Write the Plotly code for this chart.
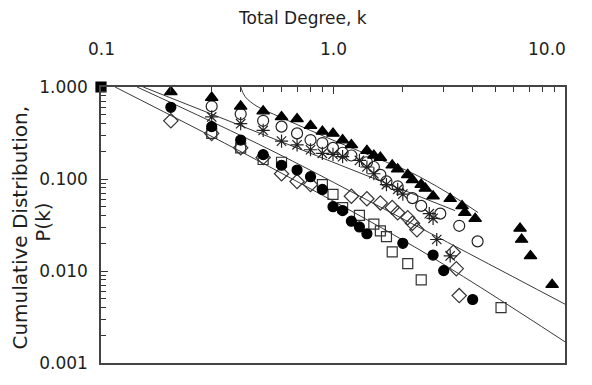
import plotly.graph_objects as go

# values (k = total degree, P = cumulative distribution)
k_tri = [0.2, 0.3, 0.4, 0.5, 0.6, 0.7, 0.8, 0.9, 1.0, 1.1, 1.2, 1.4, 1.5, 1.6, 1.8, 1.9, 2.1, 2.2,
         2.4, 2.5, 2.7, 3.2, 3.6, 3.7, 4.1, 6.4, 6.5, 7.1, 8.8]
p_tri = [0.886, 0.767, 0.617, 0.547, 0.473, 0.450, 0.380, 0.329, 0.313, 0.265, 0.235, 0.203, 0.180,
         0.171, 0.141, 0.128, 0.111, 0.098, 0.087, 0.079, 0.065, 0.061, 0.051, 0.043, 0.037, 0.029,
         0.022, 0.0146, 0.0071]

k_ocirc = [0.3, 0.4, 0.5, 0.6, 0.7, 0.8, 0.9, 1.0, 1.1, 1.2, 1.4, 1.5, 1.6, 1.7, 1.9, 2.2, 2.4,
           2.9, 3.5, 4.2]
p_ocirc = [0.617, 0.508, 0.429, 0.371, 0.313, 0.265, 0.246, 0.218, 0.193, 0.180, 0.152, 0.135,
           0.111, 0.094, 0.083, 0.062, 0.051, 0.042, 0.031, 0.021]

k_star = [0.3, 0.4, 0.5, 0.6, 0.7, 0.8, 0.9, 1.0, 1.1, 1.3, 1.4, 1.5, 1.7, 1.9, 2.0, 2.6, 2.7, 2.8, 3.2]
p_star = [0.473, 0.399, 0.337, 0.258, 0.235, 0.208, 0.19, 0.185, 0.175, 0.159, 0.135, 0.114, 0.087,
          0.077, 0.0685, 0.042, 0.0374, 0.022, 0.0146]

k_diam = [0.2, 0.3, 0.4, 0.5, 0.6, 0.7, 0.8, 1.2, 1.4, 1.6, 1.8, 1.9, 2.1, 2.2, 2.3, 3.3, 3.4, 3.5]
p_diam = [0.429, 0.313, 0.218, 0.171, 0.114, 0.094, 0.087, 0.065, 0.061, 0.055, 0.049, 0.043, 0.038,
          0.033, 0.028, 0.016, 0.0106, 0.0054]

k_fcirc = [0.2, 0.3, 0.4, 0.5, 0.6, 0.7, 0.8, 0.9, 1.0, 1.1, 1.2, 1.3, 1.4, 2.0, 2.7, 3.0, 4.0]
p_fcirc = [0.602, 0.371, 0.265, 0.184, 0.141, 0.125, 0.106, 0.077, 0.050, 0.0454, 0.0348, 0.0301,
           0.0254, 0.020, 0.0149, 0.0101, 0.0049]

k_osq = [0.3, 0.4, 0.5, 0.6, 0.9, 1.0, 1.1, 1.3, 1.5, 1.6, 1.7, 1.8, 2.1, 2.4, 5.3]
p_osq = [0.313, 0.218, 0.163, 0.152, 0.087, 0.068, 0.0488, 0.0402, 0.0324, 0.0273, 0.0236, 0.0161,
         0.012, 0.008, 0.0040]

k_start = [0.1]
p_start = [1.0]

# fitted curves
fitA_k = [0.40, 0.418, 0.47, 0.59, 0.80, 1.07, 1.59, 2.15, 3.04, 4.22]
fitA_p = [1.0, 0.785, 0.617, 0.473, 0.337, 0.246, 0.163, 0.119, 0.0736, 0.0432]
fitB_k = [0.152, 3.36]
fitB_p = [1.0, 0.0453]
fitC_k = [0.143, 0.535, 1.945, 10.0]
fitC_p = [1.0, 0.208, 0.0383, 0.00436]
fitD_k = [0.115, 0.535, 2.37, 10.0]
fitD_p = [1.0, 0.135, 0.0169, 0.0017]

x_ticks = [0.1, 1, 10]
x_labels = ['0.1', '1.0', '10.0']
y_ticks = [1, 0.1, 0.01, 0.001]
y_labels = ['1.000', '0.100', '0.010', '0.001']

FONT = 'DejaVu Sans'
INK = '#1e1e1e'

fig = go.Figure()

for fk, fp in [(fitA_k, fitA_p), (fitB_k, fitB_p), (fitC_k, fitC_p), (fitD_k, fitD_p)]:
    fig.add_trace(go.Scatter(x=fk, y=fp, mode='lines', line=dict(color='#3a3a3a', width=1, shape='spline'),
                             hoverinfo='skip'))

series = [
    (k_osq, p_osq, 'square-open', 10, '#333333'),
    (k_diam, p_diam, 'diamond-open', 11, '#333333'),
    (k_star, p_star, 'asterisk-open', 11, '#222222'),
    (k_ocirc, p_ocirc, 'circle-open', 11, '#222222'),
    (k_fcirc, p_fcirc, 'circle', 10, '#000000'),
    (k_tri, p_tri, 'triangle-up', 11, '#000000'),
    (k_start, p_start, 'square', 10, '#000000'),
]
for kk, pp, sym, size, col in series:
    fig.add_trace(go.Scatter(
        x=kk, y=pp, mode='markers',
        marker=dict(symbol=sym, size=size, color=col, line=dict(color=col, width=1.2)),
        cliponaxis=False,
    ))

# the page body adds 8px around the figure, so the figure is sized to fit inside the window
fig.update_layout(
    width=584, height=377,
    margin=dict(l=93, r=27, t=79, b=12),
    paper_bgcolor='white', plot_bgcolor='white',
    showlegend=False,
    font=dict(family=FONT, size=17, color=INK),
)
fig.update_xaxes(
    type='log', range=[-1, 1], side='top',
    tickmode='array', tickvals=x_ticks, ticktext=x_labels, showticklabels=False,
    ticks='inside', ticklen=7, tickcolor='#333',
    minor=dict(ticks='inside', ticklen=5, tickcolor='#333',
               tickvals=[0.2, 0.3, 0.4, 0.5, 0.6, 0.7, 0.8, 0.9, 2, 3, 4, 5, 6, 7, 8, 9]),
    showline=True, linecolor='#444', linewidth=1.5, mirror=True,
    showgrid=False, zeroline=False,
)
fig.update_yaxes(
    type='log', range=[-3, 0],
    tickmode='array', tickvals=y_ticks, ticktext=y_labels,
    ticks='inside', ticklen=7, tickcolor='#333', ticklabelstandoff=8,
    minor=dict(ticks='inside', ticklen=5, tickcolor='#333',
               tickvals=[0.002, 0.003, 0.004, 0.005, 0.006, 0.007, 0.008, 0.009,
                         0.02, 0.03, 0.04, 0.05, 0.06, 0.07, 0.08, 0.09,
                         0.2, 0.3, 0.4, 0.5, 0.6, 0.7, 0.8, 0.9]),
    showline=True, linecolor='#444', linewidth=1.5, mirror=True,
    showgrid=False, zeroline=False,
)

# top axis labels (the right-most one is kept inside the page as in the original)
for i, (tv, tt) in enumerate(zip(x_ticks, x_labels)):
    last = i == len(x_ticks) - 1
    fig.add_annotation(
        text=tt, xref='x', yref='paper', x=[-1, 0, 1][i], y=1.136,
        xanchor='right' if last else 'center', yanchor='middle', xshift=3 if last else 0,
        showarrow=False, font=dict(family=FONT, size=17, color=INK),
    )
fig.add_annotation(
    text='Total Degree, k', xref='paper', yref='paper', x=0.435, y=1.25,
    xanchor='center', yanchor='middle', showarrow=False,
    font=dict(family=FONT, size=17, color=INK),
)
# y title, two lines
fig.add_annotation(
    text='Cumulative Distribution,', textangle=-90,
    xref='paper', yref='paper', x=-0.175, y=0.49, xanchor='center', yanchor='middle',
    showarrow=False, font=dict(family=FONT, size=20, color=INK),
)
fig.add_annotation(
    text='P(k)', textangle=-90,
    xref='paper', yref='paper', x=-0.124, y=0.51, xanchor='center', yanchor='middle',
    showarrow=False, font=dict(family=FONT, size=20, color=INK),
)

fig.write_html('out.html')
